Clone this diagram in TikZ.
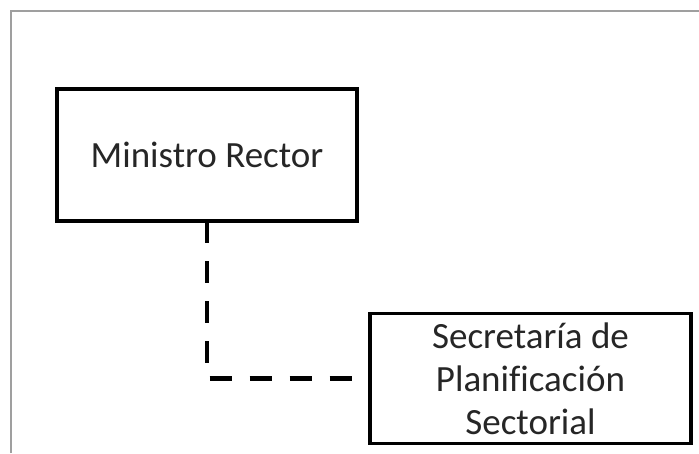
\documentclass[tikz,border=0pt]{standalone}
\usepackage{fontspec}
\setmainfont{Carlito}[Ligatures=NoCommon]
\begin{document}
\begin{tikzpicture}[x=1pt,y=-1pt,
  box/.style={draw=black, line width=3.5pt, fill=white, align=center, inner sep=0pt, outer sep=0pt,
    font=\fontsize{37}{43}\selectfont, text=black!85},
  link/.style={line width=4.5pt, dash pattern=on 22pt off 18pt, draw=black}]
\useasboundingbox (0,0) rectangle (699,453);
\fill[white] (0,0) rectangle (699,453);
\draw[gray!75, line width=2pt] (11,453) -- (11,11) -- (699,11);
\node[box, minimum width=300pt, minimum height=132pt] (mr) at (207,155) {Ministro Rector};
\node[box, minimum width=321pt, minimum height=130pt] (sp) at (530.5,378.5) {Secretaría de\\Planificación\\Sectorial};
\draw[link] (mr.south) |- (sp.west);
\end{tikzpicture}
\end{document}
